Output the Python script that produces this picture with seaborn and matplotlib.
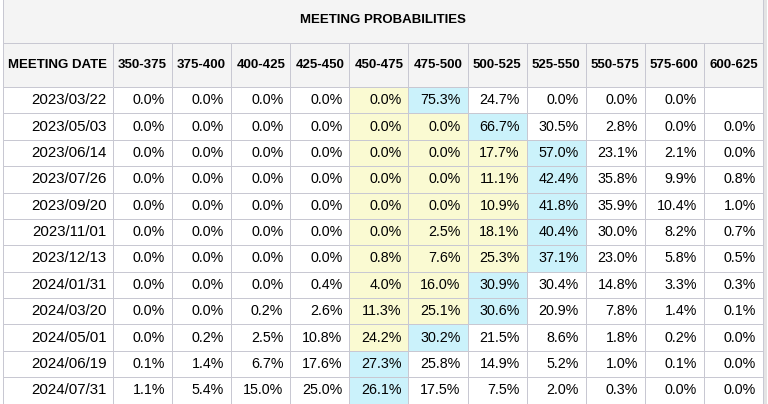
import seaborn as sns
import matplotlib.pyplot as plt
from matplotlib.colors import ListedColormap
from matplotlib.patches import Rectangle
import numpy as np

# Table content
title = "MEETING PROBABILITIES"
first_header = "MEETING DATE"
buckets = ["350-375", "375-400", "400-425", "425-450", "450-475", "475-500",
           "500-525", "525-550", "550-575", "575-600", "600-625"]
dates = ["2023/03/22", "2023/05/03", "2023/06/14", "2023/07/26", "2023/09/20",
         "2023/11/01", "2023/12/13", "2024/01/31", "2024/03/20", "2024/05/01",
         "2024/06/19", "2024/07/31"]
probs = [
    [0.0, 0.0, 0.0, 0.0, 0.0, 75.3, 24.7, 0.0, 0.0, 0.0, np.nan],
    [0.0, 0.0, 0.0, 0.0, 0.0, 0.0, 66.7, 30.5, 2.8, 0.0, 0.0],
    [0.0, 0.0, 0.0, 0.0, 0.0, 0.0, 17.7, 57.0, 23.1, 2.1, 0.0],
    [0.0, 0.0, 0.0, 0.0, 0.0, 0.0, 11.1, 42.4, 35.8, 9.9, 0.8],
    [0.0, 0.0, 0.0, 0.0, 0.0, 0.0, 10.9, 41.8, 35.9, 10.4, 1.0],
    [0.0, 0.0, 0.0, 0.0, 0.0, 2.5, 18.1, 40.4, 30.0, 8.2, 0.7],
    [0.0, 0.0, 0.0, 0.0, 0.8, 7.6, 25.3, 37.1, 23.0, 5.8, 0.5],
    [0.0, 0.0, 0.0, 0.4, 4.0, 16.0, 30.9, 30.4, 14.8, 3.3, 0.3],
    [0.0, 0.0, 0.2, 2.6, 11.3, 25.1, 30.6, 20.9, 7.8, 1.4, 0.1],
    [0.0, 0.2, 2.5, 10.8, 24.2, 30.2, 21.5, 8.6, 1.8, 0.2, 0.0],
    [0.1, 1.4, 6.7, 17.6, 27.3, 25.8, 14.9, 5.2, 1.0, 0.1, 0.0],
    [1.1, 5.4, 15.0, 25.0, 26.1, 17.5, 7.5, 2.0, 0.3, 0.0, 0.0],
]
current_bucket = "450-475"

vals = np.array(probs)
# 0 = plain, 1 = between current target and most likely, 2 = most likely
codes = np.zeros_like(vals)
cur = buckets.index(current_bucket)
for i, row in enumerate(np.nan_to_num(vals)):
    top = int(np.argmax(row))
    codes[i, cur:top] = 1
    codes[i, top] = 2

grid = "#c8c8d2"
head_bg = "#f4f4f4"
yellow = "#fafad2"
cyan = "#cbf2fb"
font = "Liberation Sans"
ink = "#000000"

W, H = 768, 404
x0, xd, xr = 3, 113, 763          # left edge, end of date column, right edge
y_title, y_head, y_bot = 43, 87, 403.5
cw = (xr - xd) / len(buckets)
rh = (y_bot - y_head) / len(dates)
lw = 0.72  # one pixel

fig = plt.figure(figsize=(W / 100, H / 100), dpi=100)

# background layer in pixel coordinates: title, header, date column
bg = fig.add_axes([0, 0, 1, 1])
bg.set_xlim(0, W)
bg.set_ylim(H, 0)
bg.axis("off")
bg.add_patch(Rectangle((xr, 0), 3.5, H, color="#e4e4e4", lw=0))
bg.add_patch(Rectangle((x0, -2), xr - x0, y_title + 2, fc=head_bg, ec=grid, lw=lw))
bg.add_patch(Rectangle((x0, y_title), xd - x0, y_head - y_title, fc=head_bg, ec=grid, lw=lw))
for k, b in enumerate(buckets):
    bg.add_patch(Rectangle((xd + k * cw, y_title), cw, y_head - y_title,
                           fc=head_bg, ec=grid, lw=lw))
    bg.text(xd + (k + 0.5) * cw, 65, b, ha="center", va="center",
            fontsize=9.5, fontweight="bold", family=font, color=ink)
bg.text((x0 + xr) / 2, 20, title, ha="center", va="center",
        fontsize=9.5, fontweight="bold", family=font, color=ink)
bg.text((x0 + xd) / 2, 65, first_header, ha="center", va="center",
        fontsize=9.5, fontweight="bold", family=font, color=ink)
for i, d in enumerate(dates):
    bg.add_patch(Rectangle((x0, y_head + i * rh), xd - x0, rh, fc="white", ec=grid, lw=lw))
    bg.text(xd - 6.5, y_head + (i + 0.5) * rh, d, ha="right", va="center",
            fontsize=10.8, family=font, color=ink)

# probability cells
ax = fig.add_axes([xd / W, (H - y_bot) / H, (xr - xd) / W, (y_bot - y_head) / H])
sns.heatmap(codes, ax=ax, cmap=ListedColormap(["white", yellow, cyan]),
            vmin=-0.5, vmax=2.5, cbar=False, linewidths=0,
            xticklabels=False, yticklabels=False)
ax.set_facecolor("white")
nr, nc = vals.shape
ax.vlines(np.arange(nc + 1), 0, nr, colors=grid, lw=lw, clip_on=False)
ax.hlines(np.arange(nr + 1), 0, nc, colors=grid, lw=lw, clip_on=False)
pad = 7 / cw
for i in range(nr):
    for j in range(nc):
        if np.isnan(vals[i, j]):
            continue
        ax.text(j + 1 - pad, i + 0.5, f"{vals[i, j]:.1f}%", ha="right", va="center",
                fontsize=10.3, family=font, color=ink)

fig.savefig("out.png", dpi=100)
